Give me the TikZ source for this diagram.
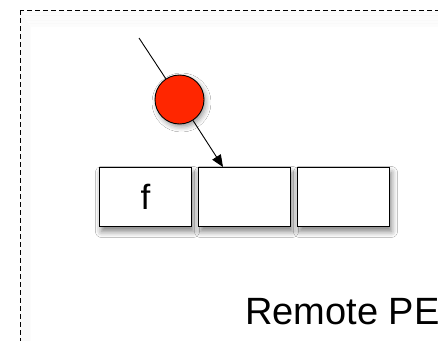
\documentclass[tikz,border=0pt]{standalone}
\usepackage{fontspec}
\setmainfont{Liberation Sans}
\usetikzlibrary{shadows.blur,arrows.meta,calc}
\definecolor{tokenred}{HTML}{FF2600}
\tikzset{
  cellbox/.style={draw=black, line width=0.9pt, fill=white, minimum width=92pt,
    minimum height=59pt, inner sep=0pt, anchor=north west,
    blur shadow={shadow xshift=2pt, shadow yshift=-5pt, shadow blur radius=6pt, shadow opacity=50}},
  token/.style={circle, draw=black, line width=0.9pt, fill=tokenred, minimum size=49pt, inner sep=0pt,
    blur shadow={shadow xshift=2pt, shadow yshift=-3pt, shadow blur radius=5pt, shadow opacity=40}},
  link/.style={draw=black, line width=0.9pt},
  bigtext/.style={font=\fontsize{38}{41}\selectfont, inner sep=0pt},
  frame/.style={draw=black, line width=1pt, dash pattern=on 5pt off 3pt},
}
\begin{document}
\begin{tikzpicture}[x=1pt,y=-1pt]
  \useasboundingbox (0,0) rectangle (438,340);
  \clip (0,0) rectangle (438,340);
  \fill[white] (0,0) rectangle (438,340);

  % soft inner haze along the frame
  \foreach \i in {1,...,10}{
    \draw[black, opacity=0.01, line width=2pt] (20+\i,10+1.6*\i) rectangle (470,370);
  }
  % dashed region frame
  \draw[frame] (20,10) rectangle (470,370);

  % row of cells
  \node[cellbox] (c1) at (99,167) {};
  \node[cellbox] (c2) at (198,167) {};
  \node[cellbox] (c3) at (297,167) {};
  \node[bigtext, font=\fontsize{35}{38}\selectfont] (f) at (c1.center) {f};

  % token moving into the second cell
  \coordinate (src) at (139,38);
  \node[token] (tok) at (179.5,99.5) {};
  \coordinate (dst) at ($(c2.north west)+(25,0)$);
  \draw[link] (src) -- (tok);
  \draw[link, -{Triangle[length=12pt,width=10pt]}] (tok) -- (dst);

  % region label
  \node[bigtext, anchor=base west] (lbl) at (245,324) {Remote PE};
\end{tikzpicture}
\end{document}
